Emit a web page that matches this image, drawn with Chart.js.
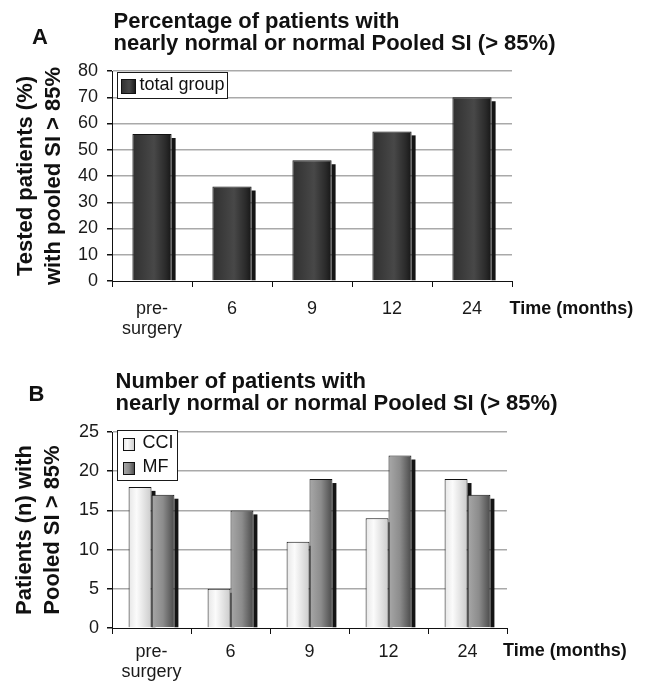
<!DOCTYPE html>
<html>
<head>
<meta charset="utf-8">
<script src="https://cdn.jsdelivr.net/npm/chart.js@4.4.1/dist/chart.umd.min.js"></script>
<style>
  html, body { margin: 0; padding: 0; background: #ffffff; }
  #wrap { position: relative; width: 649px; height: 682px; overflow: hidden; background: #fff; }
  canvas { position: absolute; left: 0; }
  #cA { top: 0; }
  #cB { top: 340px; }
</style>
</head>
<body>
<div id="wrap">
  <canvas id="cA" width="649" height="340"></canvas>
  <canvas id="cB" width="649" height="342"></canvas>
</div>
<script>
// ---------- data ----------
const timeLabels = [['pre-', 'surgery'], '6', '9', '12', '24'];
const totalGroupPct = [56, 36, 46, 57, 70];
const cciCounts = [18, 5, 11, 14, 19];
const mfCounts = [17, 15, 19, 22, 17];
const seriesNamesA = ['total group'];
const seriesNamesB = ['CCI', 'MF'];
const titleA = ['Percentage of patients with', 'nearly normal or normal Pooled SI (> 85%)'];
const titleB = ['Number of patients with', 'nearly normal or normal Pooled SI (> 85%)'];
const yTitleA = ['Tested patients (%)', 'with pooled SI > 85%'];
const yTitleB = ['Patients (n) with', 'Pooled SI > 85%'];
const xUnitLabel = 'Time (months)';
const panelLetters = ['A', 'B'];

// ---------- styling ----------
const FONT = "'Liberation Sans', Arial, Helvetica, sans-serif";
const SHADES = {
  dark:  [[0, '#303030'], [0.55, '#484848'], [0.85, '#2a2a2a'], [1, '#161616']],
  light: [[0, '#e6e6e6'], [0.35, '#fbfbfb'], [1, '#cbcbcb']],
  mid:   [[0, '#a8a8a8'], [0.5, '#8c8c8c'], [1, '#4a4a4a']]
};
function makeGrad(ctx, x0, x1, stops) {
  const g = ctx.createLinearGradient(x0, 0, x1, 0);
  stops.forEach(s => g.addColorStop(s[0], s[1]));
  return g;
}

// gradient fill + drop shadow for each bar (positions from the library's elements)
const barStyle = {
  id: 'barStyle',
  beforeDatasetsDraw(chart) {
    const ctx = chart.ctx;
    ctx.save();
    chart.data.datasets.forEach((ds, i) => {
      const meta = chart.getDatasetMeta(i);
      meta.data.forEach(el => {
        const p = el.getProps(['x', 'y', 'base', 'width'], true);
        const left = p.x - p.width / 2, right = p.x + p.width / 2;
        el.options.backgroundColor = makeGrad(ctx, left, right, SHADES[ds.shade]);
        ctx.fillStyle = '#141414';
        ctx.fillRect(right, p.y + 4, 4, p.base - p.y - 4);
      });
    });
    ctx.restore();
  }
};

// boxed legend inside the plot area
const boxLegend = {
  id: 'boxLegend',
  afterDraw(chart, args, o) {
    const ctx = chart.ctx, a = chart.chartArea;
    const ds = chart.data.datasets;
    ctx.save();
    ctx.font = o.size + 'px ' + FONT;
    let maxW = 0;
    ds.forEach(d => { maxW = Math.max(maxW, ctx.measureText(d.label).width); });
    const bx = Math.round(a.left + o.dx) + 0.5, by = Math.round(a.top + o.dy) + 0.5;
    const w = Math.round(o.tx + maxW + o.padR);
    const h = o.rowTop * 2 + (ds.length - 1) * o.row;
    ctx.fillStyle = '#ffffff';
    ctx.fillRect(bx, by, w, h);
    ctx.strokeStyle = '#1a1a1a';
    ctx.lineWidth = 1;
    ctx.strokeRect(bx, by, w, h);
    ds.forEach((d, i) => {
      const cy = by + o.rowTop + i * o.row;
      const sx = bx + o.sx, sy = Math.round(cy - o.sh / 2) + 0.5;
      ctx.fillStyle = makeGrad(ctx, sx, sx + o.sw, SHADES[d.shade]);
      ctx.fillRect(sx, sy, o.sw, o.sh);
      ctx.strokeStyle = '#111';
      ctx.strokeRect(sx, sy, o.sw, o.sh);
      ctx.fillStyle = '#111';
      ctx.textAlign = 'left';
      ctx.textBaseline = 'middle';
      ctx.fillText(d.label, bx + o.tx, cy);
    });
    ctx.restore();
  }
};

// panel letter, two-line title, and axis unit label
const annot = {
  id: 'annot',
  afterDraw(chart, args, o) {
    const ctx = chart.ctx;
    ctx.save();
    ctx.fillStyle = '#111';
    ctx.textBaseline = 'middle';
    ctx.font = 'bold 22px ' + FONT;
    ctx.textAlign = 'center';
    ctx.fillText(o.letter, o.letterX, o.letterY);
    ctx.textAlign = 'left';
    o.lines.forEach((t, i) => ctx.fillText(t, o.titleX, o.titleY + i * o.titleGap));
    ctx.font = 'bold 18px ' + FONT;
    ctx.fillText(o.unit, chart.chartArea.right + o.unitDx, o.unitY);
    ctx.restore();
  }
};

function buildOptions(cfg) {
  return {
    responsive: false,
    maintainAspectRatio: false,
    animation: false,
    devicePixelRatio: 1,
    layout: { padding: { left: 0, top: cfg.top, right: cfg.right, bottom: 0 } },
    plugins: {
      legend: { display: false },
      tooltip: { enabled: false },
      boxLegend: cfg.legend,
      annot: cfg.annot
    },
    scales: {
      x: {
        type: 'category',
        offset: true,
        grid: { display: true, offset: true, drawOnChartArea: false, drawTicks: true, tickLength: 6, tickColor: '#111', lineWidth: 1 },
        border: { display: true, color: '#111', width: 1 },
        ticks: { color: '#1a1a1a', font: { family: FONT, size: 18, lineHeight: 1.11 }, padding: cfg.xPad, maxRotation: 0, autoSkip: false },
        afterFit: s => { s.height = cfg.xHeight; }
      },
      y: {
        min: 0, max: cfg.max,
        grid: {
          color: c => (c.tick && c.tick.value === 0) ? 'rgba(0,0,0,0)' : '#a9a9a9',
          lineWidth: 1.5, tickColor: '#111', tickLength: 5, drawTicks: true
        },
        border: { display: true, color: '#111', width: 1 },
        ticks: { stepSize: cfg.step, color: '#1a1a1a', font: { family: FONT, size: 18 }, padding: cfg.yPad },
        title: {
          display: true, text: cfg.yTitle, color: '#111',
          font: { family: FONT, size: 22, weight: 'bold', lineHeight: cfg.yLH },
          padding: { top: cfg.yTitlePad, bottom: 0 }
        },
        afterFit: s => { s.width = 112; }
      }
    }
  };
}

new Chart(document.getElementById('cA'), {
  type: 'bar',
  data: {
    labels: timeLabels,
    datasets: [{
      label: seriesNamesA[0], data: totalGroupPct, shade: 'dark',
      backgroundColor: () => '#3a3a3a', borderColor: '#111', borderWidth: 1,
      barPercentage: 0.49, categoryPercentage: 1
    }]
  },
  options: buildOptions({
    top: 71, right: 137, max: 80, step: 10, xPad: 12.5, xHeight: 59, yPad: 9,
    yTitle: yTitleA, yLH: 1.3, yTitlePad: 11.5,
    legend: { size: 18, dx: 5, dy: 1, tx: 22, padR: 3, rowTop: 13, row: 24, sx: 4, sw: 14, sh: 14 },
    annot: { letter: panelLetters[0], letterX: 40, letterY: 37.5, lines: titleA, titleX: 113.5, titleY: 21.5, titleGap: 22.5, unit: xUnitLabel, unitDx: -2.5, unitY: 309 }
  }),
  plugins: [barStyle, boxLegend, annot]
});

new Chart(document.getElementById('cB'), {
  type: 'bar',
  data: {
    labels: timeLabels,
    datasets: [
      { label: seriesNamesB[0], data: cciCounts, shade: 'light',
        backgroundColor: () => '#f0f0f0', borderColor: '#111', borderWidth: 1,
        barPercentage: 1, categoryPercentage: 0.58 },
      { label: seriesNamesB[1], data: mfCounts, shade: 'mid',
        backgroundColor: () => '#8c8c8c', borderColor: '#111', borderWidth: 1,
        barPercentage: 1, categoryPercentage: 0.58 }
    ]
  },
  options: buildOptions({
    top: 92, right: 142, max: 25, step: 5, xPad: 8.5, xHeight: 54, yPad: 8,
    yTitle: yTitleB, yLH: 1.27, yTitlePad: 11,
    legend: { size: 18, dx: 5, dy: -2, tx: 25, padR: 4, rowTop: 13, row: 24, sx: 6, sw: 11, sh: 12 },
    annot: { letter: panelLetters[1], letterX: 36.5, letterY: 55, lines: titleB, titleX: 115.5, titleY: 41.5, titleGap: 22, unit: xUnitLabel, unitDx: -4, unitY: 311.5 }
  }),
  plugins: [barStyle, boxLegend, annot]
});
</script>
</body>
</html>
